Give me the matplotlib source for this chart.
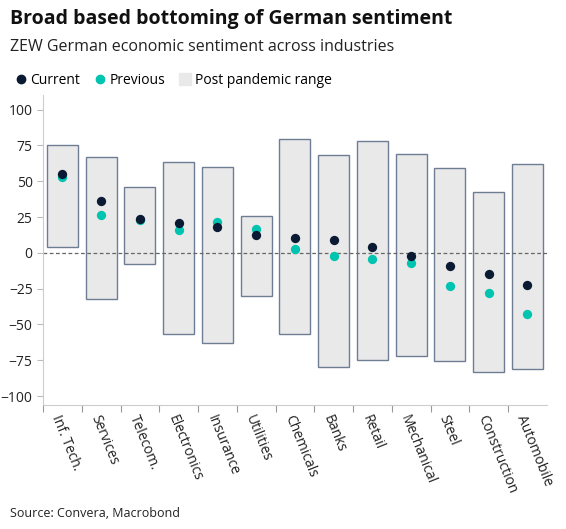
import matplotlib
matplotlib.use("Agg")
import matplotlib.pyplot as plt
from matplotlib.patches import Rectangle
from matplotlib.lines import Line2D

plt.rcParams['font.family'] = ['Open Sans', 'DejaVu Sans']

categories = ["Inf. Tech.", "Services", "Telecom.", "Electronics", "Insurance", "Utilities",
              "Chemicals", "Banks", "Retail", "Mechanical", "Steel", "Construction", "Automobile"]
range_high = [75, 67, 45.6, 63.7, 59.7, 25.5, 79.6, 68, 78, 68.7, 59.5, 42.4, 61.8]
range_low = [4, -32, -7.6, -57, -63, -30, -57, -79.6, -75, -72, -75.7, -83.3, -81]
current = [54.9, 36.3, 23.4, 21, 17.8, 12.3, 10.6, 8.6, 4.2, -2.5, -9.3, -14.8, -22.7]
previous = [53, 26.4, 22.7, 16.2, 21.8, 16.7, 2.5, -1.9, -4.4, -7.2, -23.4, -27.8, -42.6]

dark = "#0b1a33"
teal = "#00c4b0"
fig = plt.figure(figsize=(5.66, 5.29), dpi=100)
ax = fig.add_axes([0.076, 0.235, 0.89, 0.585])
n = len(categories)
w = 0.8
for i in range(n):
    ax.add_patch(Rectangle((i - w/2, range_low[i]), w, range_high[i] - range_low[i],
                           facecolor="#e9e9e9", edgecolor="#6e7d93", lw=1, zorder=1))
ax.axhline(0, color="#666666", lw=0.9, ls=(0, (3, 2)), zorder=2)
x = list(range(n))
ax.scatter(x, previous, s=45, color=teal, zorder=3, linewidths=0)
ax.scatter(x, current, s=45, color=dark, zorder=4, linewidths=0)
ax.set_xlim(-0.5, n - 0.5)
ax.set_ylim(-106, 110)
ax.set_yticks(range(-100, 101, 25))
ax.set_xticks([i - 0.5 for i in range(n)], minor=False)
ax.set_xticklabels([])
ax.set_xticks(x, minor=True)
ax.set_xticklabels(categories, minor=True, rotation=-68, ha='left', rotation_mode='anchor', fontsize=10, color="#222222")
ax.tick_params(axis='x', which='minor', length=0, pad=6)
ax.tick_params(axis='x', which='major', length=5, color="#999999")
ax.tick_params(axis='y', length=4, color="#bbbbbb", labelsize=10, labelcolor="#222222")
for s in ["top", "right"]:
    ax.spines[s].set_visible(False)
for s in ["left", "bottom"]:
    ax.spines[s].set_color("#cccccc")

fig.text(0.018, 0.955, "Broad based bottoming of German sentiment", fontsize=14, fontweight='bold', color="#111111")
fig.text(0.018, 0.903, "ZEW German economic sentiment across industries", fontsize=11.5, color="#222222")
handles = [Line2D([], [], marker='o', ls='', color=dark, markersize=6),
           Line2D([], [], marker='o', ls='', color=teal, markersize=6),
           Line2D([], [], marker='s', ls='', color="#e9e9e9", markersize=9)]
fig.legend(handles, ["Current", "Previous", "Post pandemic range"], loc='upper left',
           bbox_to_anchor=(0.0, 0.885), ncol=3, frameon=False, fontsize=10,
           handletextpad=0.1, columnspacing=0.8, handlelength=1.2)
fig.text(0.018, 0.022, "Source: Convera, Macrobond", fontsize=9, color="#222222")
fig.savefig("out.png", dpi=100)
